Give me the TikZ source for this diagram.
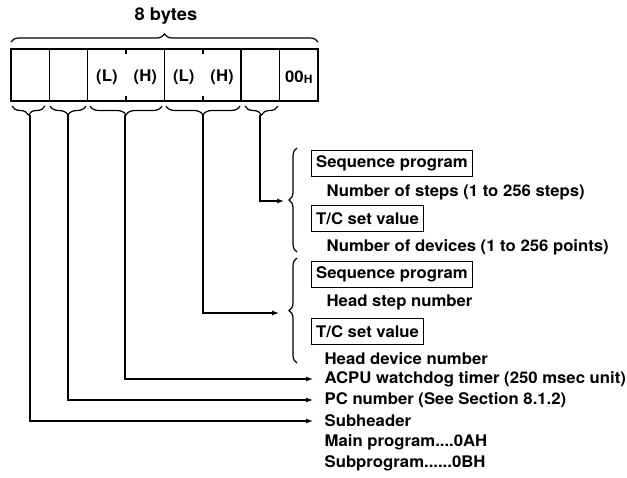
\documentclass[tikz,border=0pt]{standalone}
\usepackage{fontspec}
\setmainfont{TeX Gyre Heros}[FakeStretch=1.045]
\usetikzlibrary{decorations.pathreplacing,arrows.meta}
\begin{document}
\begin{tikzpicture}[x=1pt,y=-1pt,
  font=\fontsize{16}{18}\selectfont\bfseries,
  line width=1.3pt,
  cell/.style={draw,minimum height=52pt,inner sep=0pt},
  brc/.style={decorate,decoration={brace,amplitude=#1},line width=1.2pt},
  arr/.style={-{Latex[length=7pt,width=5pt]},line width=1.2pt},
  tbox/.style={draw,anchor=west,inner xsep=4.5pt,minimum height=26pt,line width=1.3pt},
  txt/.style={anchor=west,inner sep=0pt},
  atxt/.style={anchor=west,inner xsep=11pt,inner ysep=0pt}]
\useasboundingbox (0,0) rectangle (627,477);
% title
\node (title) at (166,16) {\fontsize{17.5}{19}\selectfont 8 bytes};
\draw[brc=8pt] (11,42) -- (318,42);
% cells
\node[cell,minimum width=38.4pt] (c1) at (30.2,75) {};
\node[cell,minimum width=38.4pt] (c2) at (68.6,75) {};
\node[cell,minimum width=76.8pt] (c34) at (126.1,75) {};
\node[cell,minimum width=76.8pt] (c56) at (202.9,75) {};
\node[cell,minimum width=38.4pt] (c7) at (260.1,75) {};
\node[cell,minimum width=38.4pt] (c8) at (298.8,75) {};
\draw (c34.north) -- ++(0,6) (c34.south) -- ++(0,-6);
\draw (c56.north) -- ++(0,6) (c56.south) -- ++(0,-6);
\node (l1) at (106.9,77) {(L)};
\node (h1) at (145.3,77) {(H)};
\node (l2) at (183.7,77) {(L)};
\node (h2) at (222.1,77) {(H)};
\node (oo) at (298.8,77) {00\raisebox{-0.7pt}{\fontsize{11.5}{11.5}\selectfont H}};
% bottom braces
\draw[brc=9pt] (45,106) -- (12,106);
\draw[brc=9pt] (86,106) -- (50,106);
\draw[brc=9pt] (162,106) -- (90,106);
\draw[brc=9pt] (240,106) -- (166,106);
\draw[brc=9pt] (278,106) -- (245,106);
\coordinate (t1) at (30,115);
\coordinate (t2) at (68,115);
\coordinate (t34) at (125,115);
\coordinate (t56) at (203,115);
\coordinate (t7) at (260,115);
% right braces
\draw[brc=8pt] (297,252) -- (297,148);
\draw[brc=8pt] (297,363) -- (297,258);
\coordinate (b1) at (284,201);
\coordinate (b2) at (279,313);
% texts
\node[tbox] (sp1) at (311,163.5) {Sequence program};
\node[txt] (ns) at (326,192) {Number of steps (1 to 256 steps)};
\node[tbox] (tc1) at (311,218.5) {T/C set value};
\node[txt] (nd) at (326,247) {Number of devices (1 to 256 points)};
\node[tbox] (sp2) at (311,274.5) {Sequence program};
\node[txt] (hs) at (326,302) {Head step number};
\node[tbox] (tc2) at (311,331.5) {T/C set value};
\node[txt] (hd) at (324,359) {Head device number};
\node[atxt] (acpu) at (313,379) {ACPU watchdog timer (250 msec unit)};
\node[atxt] (pc) at (313,400) {PC number (See Section 8.1.2)};
\node[atxt] (sub) at (313,421) {Subheader};
\node[txt] (mp) at (324,442) {Main program....0AH};
\node[txt] (sp) at (324,463) {Subprogram......0BH};
% connectors
\draw[arr] (t7) |- (b1);
\draw[arr] (t56) |- (b2);
\draw[arr] (t34) |- (acpu.west);
\draw[arr] (t2) |- (pc.west);
\draw[arr] (t1) |- (sub.west);
\end{tikzpicture}
\end{document}
